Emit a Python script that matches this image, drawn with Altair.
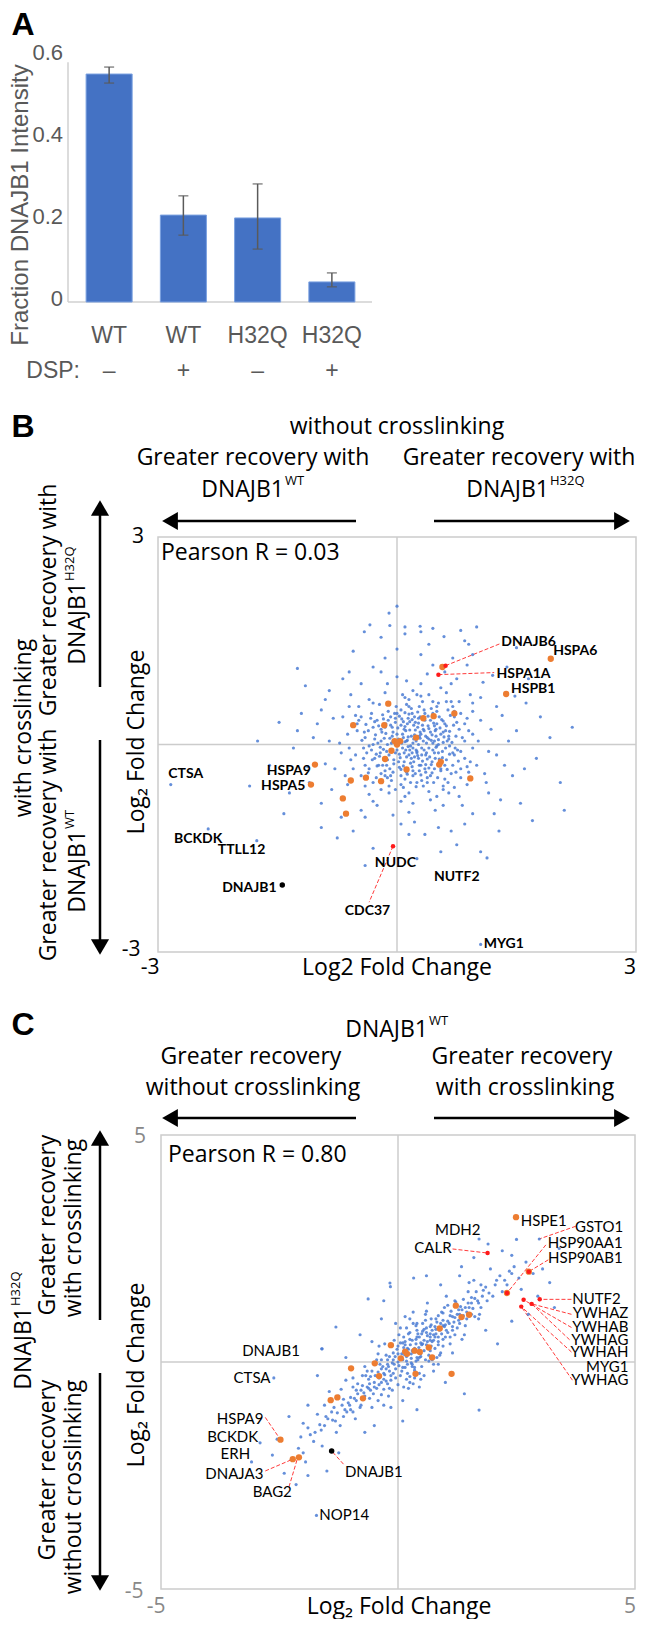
import altair as alt
import pandas as pd

OX, OY = 8, 8
def px(v): return v - OX
def py(v): return v - OY

FA = "Liberation Sans"
FH = "Open Sans"
FL = "Lato"
GRAY = "#595959"

# ---------------- Panel A data ----------------
a_conds = ["WT-", "WT+", "H32Q-", "H32Q+"]
a_names = ["WT", "WT", "H32Q", "H32Q"]
a_dsp = ["–", "+", "–", "+"]
a_vals = [0.556, 0.212, 0.205, 0.049]
a_lo = [0.534, 0.163, 0.129, 0.037]
a_hi = [0.573, 0.259, 0.288, 0.071]
a_ticks = [0, 0.2, 0.4, 0.6]
a_tick_labels = ["0", "0.2", "0.4", "0.6"]

# ---------------- Panel B data ----------------
b_blue = [
(0.12,0.05),(0.25,-0.10),(-0.05,0.18),(0.33,0.22),(0.08,-0.31),(-0.21,-0.04),(0.41,-0.18),(0.19,0.36),(-0.12,-0.22),(0.52,0.07),
(0.03,0.41),(0.28,-0.38),(-0.30,0.25),(0.46,0.31),(-0.08,-0.45),(0.61,-0.05),(0.15,-0.15),(-0.25,-0.31),(0.37,0.02),(0.00,-0.08),
(0.22,0.14),(-0.16,0.09),(0.55,-0.27),(0.10,0.26),(0.31,-0.52),(-0.38,-0.12),(0.66,0.19),(-0.02,0.32),(0.44,-0.41),(0.17,-0.02),
(-0.33,0.38),(0.72,-0.15),(0.05,-0.58),(0.26,0.47),(-0.19,-0.55),(0.49,0.12),(-0.44,0.06),(0.13,-0.43),(0.39,0.41),(-0.07,0.02),
(0.58,0.34),(0.21,-0.25),(-0.27,0.14),(0.34,-0.08),(0.07,0.15),(-0.11,0.48),(0.63,-0.36),(0.29,0.09),(-0.36,-0.41),(0.47,-0.12),
(0.01,0.24),(0.18,0.52),(-0.22,-0.17),(0.54,0.24),(0.11,-0.35),(0.36,-0.29),(-0.14,0.30),(0.69,0.03),(0.24,-0.61),(-0.04,-0.28),
(0.42,0.18),(-0.31,-0.22),(0.16,0.33),(0.77,-0.24),(0.09,-0.12),(-0.18,0.43),(0.51,-0.48),(0.32,0.28),(-0.41,0.18),(0.20,-0.05),
(0.04,-0.19),(0.59,0.11),(-0.09,-0.35),(0.27,0.00),(0.45,0.45),(-0.24,0.02),(0.14,0.11),(0.38,-0.21),(-0.01,0.55),(0.68,-0.42),
(0.23,0.21),(-0.35,-0.02),(0.50,-0.02),(0.06,0.37),(0.30,-0.44),(-0.13,-0.10),(0.62,0.27),(0.19,-0.32),(-0.28,0.33),(0.43,0.06),
(0.10,-0.50),(0.35,0.35),(-0.20,-0.42),(0.57,-0.19),(-0.06,0.12),(0.26,-0.16),(0.74,0.12),(-0.39,0.29),(0.15,0.44),(0.40,-0.34),
(0.08,0.10),(0.31,-0.05),(-0.10,-0.15),(0.48,0.20),(0.20,-0.45),(-0.28,0.08),(0.57,-0.10),(0.13,0.30),(0.36,0.12),(-0.05,-0.40),
(0.65,0.08),(0.27,0.38),(-0.20,0.22),(0.44,-0.25),(0.02,0.08),(0.70,-0.30),(0.18,-0.20),(-0.32,-0.08),(0.53,0.40),(0.09,-0.25),
(0.40,-0.05),(-0.14,0.16),(0.60,-0.50),(0.24,0.05),(-0.23,-0.30),(0.78,0.22),(0.05,0.50),(0.33,-0.60),(-0.40,-0.30),(0.50,0.55),
(0.16,-0.08),(0.39,0.27),(-0.07,-0.52),(0.67,0.42),(0.28,-0.30),(-0.17,0.37),(0.55,-0.38),(0.11,0.20),(0.46,-0.55),(-0.03,0.45),
(0.73,-0.05),(0.21,0.28),(-0.26,-0.48),(0.34,0.50),(0.07,-0.05),(0.62,-0.22),(-0.12,0.00),(0.42,0.35),(0.17,-0.55),(-0.36,0.20),
(0.80,-0.35),(0.25,-0.12),(-0.08,0.28),(0.52,0.00),(0.29,0.18),(-0.21,-0.12),(0.47,-0.35),(0.03,-0.33),(0.64,0.50),(0.36,-0.15),
(0.14,-0.03),(0.30,0.15),(-0.02,-0.12),(0.45,-0.08),(0.22,0.40),(-0.15,0.25),(0.58,0.18),(0.05,-0.45),(0.38,-0.48),(-0.28,-0.20),
(0.70,-0.12),(0.12,0.58),(-0.40,0.10),(0.50,0.48),(0.25,-0.55),(-0.10,-0.60),(0.82,0.10),(0.32,0.62),(-0.45,-0.45),(0.64,-0.55),
(0.18,0.12),(0.40,0.08),(-0.08,0.40),(0.55,-0.35),(0.02,-0.25),(0.27,-0.20),(-0.32,0.45),(0.75,0.32),(0.10,0.46),(0.48,-0.20),
(-0.18,-0.30),(0.60,0.30),(0.20,-0.38),(-0.05,0.05),(0.35,0.45),(0.85,-0.20),(-0.25,0.35),(0.45,0.02),(0.08,-0.62),(0.66,-0.02),
(0.30,-0.30),(-0.35,-0.35),(0.52,0.60),(0.15,0.65),(-0.50,0.20),(0.90,0.20),(0.40,-0.68),(-0.12,-0.48),(0.72,0.48),(0.00,0.15),
(0.23,0.32),(0.47,0.27),(-0.20,0.05),(0.63,0.05),(0.12,-0.18),(0.36,-0.40),(-0.02,-0.65),(0.80,-0.48),(0.28,0.55),(-0.42,-0.05),
(0.05,0.28),(0.58,-0.65),(0.19,-0.12),(0.43,0.52),(-0.30,-0.55),(0.74,-0.40),(0.10,0.04),(0.33,0.05),(-0.15,-0.38),(0.55,0.15),
(0.26,0.25),(0.68,0.62),(-0.48,0.35),(0.15,-0.70),(0.95,-0.05),(-0.22,0.58),(0.50,-0.75),(0.88,0.38),(-0.58,-0.22),(0.40,0.72),
(0.06,0.02),(0.21,0.08),(0.37,-0.12),(-0.09,0.09),(0.49,-0.04),(0.16,0.21),(0.32,-0.24),(-0.17,-0.07),(0.58,0.03),(0.03,-0.14),
(0.27,0.31),(0.44,0.14),(-0.11,0.35),(0.12,-0.40),(0.53,-0.21),(0.19,0.45),(-0.26,-0.14),(0.40,0.23),(0.08,0.33),(0.61,0.20),
(0.35,-0.35),(-0.04,-0.22),(0.24,-0.08),(0.50,0.30),(0.13,0.06),(-0.19,0.18),(0.43,-0.29),(0.29,0.40),(0.00,0.45),(0.66,-0.14),
(0.17,-0.27),(0.38,0.10),(-0.13,-0.30),(0.56,0.36),(0.23,-0.42),(0.09,0.22),(0.47,0.05),(-0.06,0.25),(0.31,-0.15),(0.71,0.28),
(0.20,0.02),(0.42,-0.45),(-0.23,0.27),(0.60,-0.30),(0.14,0.38),(0.34,0.20),(-0.15,-0.45),(0.52,-0.12),(0.05,-0.36),(0.28,0.12),
(0.45,0.40),(-0.30,0.00),(0.65,0.12),(0.11,-0.08),(0.38,-0.55),(-0.02,0.38),(0.76,-0.08),(0.22,-0.18),(0.49,0.22),(0.15,0.55),
(-0.45,0.40),(0.80,0.45),(-0.52,-0.15),(0.88,-0.32),(0.25,0.72),(0.10,-0.75),(-0.40,-0.60),(0.72,-0.62),(-0.60,0.55),(0.95,0.60),
(0.07,0.72),(-0.35,0.65),(0.62,0.75),(1.00,-0.30),(-0.65,-0.45),(0.20,-0.85),(0.78,-0.75),(-0.68,0.40),(1.05,0.35),(-0.12,0.88),
(0.58,-0.88),(0.30,0.88),(-0.85,0.05),(1.15,-0.10),(-0.30,-0.82),(0.92,0.72),(0.15,-0.98),(-0.78,-0.35),(0.68,0.88),(1.12,-0.55),
(-0.62,0.15),(0.85,0.30),(-0.55,-0.35),(0.92,-0.25),(0.20,0.78),(0.05,-0.82),(-0.48,0.55),(0.78,0.62),(-0.70,-0.12),(1.02,0.05),
(0.42,-0.80),(-0.15,0.75),(0.65,-0.70),(-0.80,0.38),(0.95,0.48),(0.30,0.70),(-0.35,-0.72),(1.10,-0.42),(-0.58,0.72),(0.55,0.82),
(-0.90,-0.28),(0.88,-0.58),(0.12,0.92),(-0.25,-0.88),(1.18,0.22),(0.70,0.55),(-0.72,0.02),(0.48,-0.95),(-0.45,0.88),(1.05,0.68),
(-0.05,-1.02),(0.82,-0.88),(-0.95,0.50),(0.38,1.02),(-0.62,-0.58),(1.25,-0.15),(0.60,1.05),(-1.05,0.10),(0.95,-1.00),(0.00,0.98),
(-0.40,-1.05),(1.32,0.42),(-0.82,-0.65),(0.75,0.95),(0.22,-1.12),(-1.12,-0.32),(1.15,-0.70),(-0.30,1.12),(0.52,-1.20),(-0.68,0.95),
(1.40,0.05),(0.88,1.15),(-1.20,0.45),(0.15,-1.30),(1.08,0.90),(-0.95,-0.85),(0.68,-1.25),(-0.15,1.25),(1.45,-0.45),(-1.30,-0.05),
(0.30,1.30),(-0.55,-1.25),(1.22,-1.00),(-0.85,0.78),(0.95,0.15),(-0.50,0.30),(0.80,-0.10),(-0.42,-0.20),(0.62,0.62),(-0.30,0.60),
(0.90,-0.40),(-0.60,-0.05),(0.72,0.40),(-0.20,-0.65),(0.85,0.05),(-0.52,0.42),(0.58,-0.60),(0.10,0.68),(-0.10,-0.70),(0.45,0.62),
(1.25,0.55),(-1.00,0.30),(0.45,1.15),(-0.45,-0.95),(1.35,-0.30),(0.85,-1.15),(-0.90,0.65),(1.20,1.00),(-0.20,1.05),(0.05,-1.15),
(1.50,0.20),(-1.10,-0.55),(0.70,1.25),(-0.60,1.05),(1.30,-0.80),(0.35,-1.30),(-1.25,0.20),(1.60,-0.35),(0.95,1.30),(-0.70,-1.05),
(1.62,0.60),(1.75,-0.20),(-1.48,0.32),(1.55,-0.85),(0.40,1.45),(-0.20,1.55),(1.38,1.12),(-1.35,-0.70),(0.10,1.70),(1.92,0.10),
(-1.60,-0.30),(0.75,-1.45),(-0.75,-1.35),(1.65,0.95),(-1.15,0.85),(0.00,1.38),(1.50,1.40),(-0.95,-1.20),(2.05,-0.55),(0.55,-1.55),
(1.80,0.40),(-1.75,0.05),(-0.30,-1.50),(1.28,-1.25),(0.90,1.45),(1.05,-1.55),(-1.42,-1.00),(1.70,-1.10),(-0.55,1.35),(2.20,0.25),
(0.45,1.68),(-0.10,1.90),(0.80,1.65),(-1.85,-0.60),(1.48,0.70),(0.25,-1.65),(-1.25,1.10),(2.10,-0.95),(-0.40,-1.75),(1.00,1.70),
(0.00,2.00),(-0.41,1.63),(-0.34,1.73),(-0.09,1.72),(0.10,1.60),(0.29,1.71),(0.30,1.63),(0.59,1.56),(0.85,1.50),
(-2.84,-0.58),(-2.37,-1.22),(-1.76,-1.39),(1.13,-1.64),(1.05,-2.89),
]
b_orange = [
(-0.11,0.59),(-0.55,0.28),(-0.16,0.28),(0.33,0.38),(0.46,0.41),(0.72,0.45),(-0.03,0.05),(0.04,0.05),(0.00,0.00),(0.24,0.10),
(-0.07,-0.09),(-0.15,-0.21),(0.55,-0.25),(0.53,-0.29),(0.12,-0.36),(0.92,-0.49),(-0.58,-0.52),(-0.39,-0.48),(-0.20,-0.53),
(-0.68,-0.78),(-0.64,-1.00),(-1.03,-0.29),(-1.08,-0.58),(0.57,1.12),(1.93,1.24),(1.37,0.73),
]
b_red = [(0.52,1.01),(0.61,1.14),(-0.05,-1.47)]
b_black = [(-1.44,-2.03)]
b_lab_left = [("DNAJB6",1.31,1.48),("HSPA6",1.96,1.35),("HSPA1A",1.25,1.02),("HSPB1",1.43,0.80),
              ("CTSA",-2.87,-0.42),("BCKDK",-2.80,-1.36),("TTLL12",-2.25,-1.53),("MYG1",1.09,-2.89)]
b_lab_right = [("HSPA9",-1.08,-0.38),("HSPA5",-1.15,-0.60),("DNAJB1",-1.51,-2.08)]
b_lab_center = [("NUDC",-0.02,-1.72),("CDC37",-0.37,-2.41),("NUTF2",0.75,-1.91)]
b_leaders = [(0.61,1.14,1.30,1.46),(0.52,1.01,1.22,1.04),(-0.05,-1.47,-0.35,-2.28)]

# ---------------- Panel C data ----------------
c_blue = [
(0.10,0.05),(0.35,0.30),(-0.20,-0.10),(0.55,0.25),(0.05,-0.30),(-0.40,-0.35),(0.30,-0.05),(0.75,0.60),(-0.10,0.20),(0.45,0.55),
(0.20,-0.25),(-0.55,-0.20),(0.65,0.15),(0.00,0.35),(-0.30,-0.60),(0.85,0.45),(0.15,0.45),(-0.65,-0.55),(0.50,-0.10),(0.95,0.80),
(-0.15,-0.40),(0.40,0.10),(0.25,0.65),(-0.45,0.05),(0.70,0.35),(-0.05,-0.15),(1.05,0.65),(0.60,0.75),(-0.75,-0.30),(0.35,-0.35),
(0.90,0.20),(-0.25,0.15),(0.12,-0.55),(1.15,1.00),(-0.60,-0.80),(0.80,0.95),(0.48,0.42),(-0.35,-0.15),(0.28,0.18),(-0.85,-0.70),
(1.25,0.75),(0.02,0.60),(-0.50,-0.45),(0.68,0.55),(0.18,0.02),(-0.95,-0.55),(1.35,1.15),(0.55,-0.30),(-0.20,-0.75),(0.92,1.10),
(-1.05,-0.90),(0.38,0.80),(1.45,0.95),(-0.70,-0.10),(0.72,0.05),(-1.15,-1.20),(1.55,1.30),(0.10,-0.85),(-0.40,0.35),(1.10,0.40),
(-1.25,-0.75),(0.25,0.95),(1.65,1.55),(-0.90,-1.25),(0.85,-0.05),(-1.40,-1.10),(1.75,1.20),(0.58,1.05),(-0.15,-1.00),(1.20,1.35),
(-1.55,-1.40),(1.85,1.65),(0.45,-0.55),(-1.10,-0.40),(1.40,0.60),(-1.70,-1.15),(2.00,1.45),(-0.05,0.85),(-1.30,-1.55),(1.60,1.80),
(-1.85,-1.60),(2.15,1.90),(0.95,0.50),(-0.80,-1.00),(1.30,0.85),(-2.00,-1.35),(2.30,1.70),(-1.60,-1.85),(1.95,2.05),(-2.10,-1.90),
(2.45,2.10),(-0.30,-0.95),(0.62,1.30),(-1.45,-0.65),(1.70,0.95),(-2.25,-2.15),(2.55,1.85),(-0.55,0.45),(1.50,1.75),(-1.95,-2.20),
(0.22,0.28),(0.42,0.05),(-0.08,-0.05),(0.62,0.45),(0.30,0.48),(-0.28,-0.28),(0.78,0.30),(0.08,0.18),(-0.45,-0.58),(1.00,0.55),
(0.52,0.68),(-0.12,0.38),(0.35,-0.18),(0.88,0.70),(-0.62,-0.38),(0.15,-0.12),(1.08,0.85),(-0.35,-0.45),(0.70,0.82),(0.00,-0.50),
(1.20,0.60),(-0.78,-0.62),(0.45,0.25),(1.30,1.05),(-0.22,0.05),(0.82,0.10),(-0.92,-0.80),(0.58,0.92),(1.42,1.20),(-0.50,-0.05),
(0.25,-0.45),(1.55,1.05),(-1.00,-1.05),(0.98,1.20),(-0.18,-0.58),(1.62,1.40),(-1.18,-0.95),(0.40,0.70),(1.78,1.45),(-1.32,-1.30),
(0.75,-0.20),(1.88,1.35),(-1.48,-1.25),(0.18,0.75),(2.05,1.70),(-1.62,-1.50),(1.15,0.70),(-0.70,-0.75),(2.20,1.55),(-1.78,-1.75),
(0.65,0.30),(1.35,0.50),(-0.95,-0.35),(1.02,1.45),(-0.42,-0.85),(1.48,1.55),(-1.22,-1.40),(0.32,1.10),(1.72,1.05),(-1.55,-0.95),
(2.35,2.00),(-2.05,-1.65),(0.05,0.10),(0.50,0.38),(0.28,-0.02),(-0.10,-0.25),(0.68,0.62),(0.85,0.55),(-0.32,-0.10),(0.12,0.32),
(1.12,1.12),(-0.58,-0.62),(0.95,0.92),(-0.85,-0.48),(1.28,0.92),(-1.08,-1.10),(0.40,0.55),(-0.25,-0.42),(0.78,0.78),(1.50,1.20),
(0.18,0.12),(0.38,0.40),(-0.12,-0.02),(0.62,0.58),(0.08,-0.20),(-0.30,-0.25),(0.48,0.18),(0.80,0.72),(-0.02,0.28),(0.28,0.08),
(0.55,0.48),(-0.48,-0.30),(0.72,0.45),(0.15,0.38),(-0.22,-0.48),(0.92,0.62),(0.35,-0.12),(-0.60,-0.48),(1.05,0.90),(0.02,-0.08),
(0.42,0.62),(-0.38,-0.05),(0.68,0.25),(-0.08,0.48),(0.25,-0.32),(1.18,0.88),(-0.72,-0.68),(0.58,0.05),(0.85,1.02),(-0.52,-0.70),
(1.28,1.15),(0.12,0.55),(-0.18,0.12),(0.95,0.35),(0.45,-0.25),(-0.88,-0.62),(1.38,1.02),(0.32,0.85),(-0.35,-0.72),(1.10,0.55),
(-1.00,-0.78),(0.70,0.95),(1.48,1.30),(-0.15,-0.30),(0.52,0.85),(-1.12,-1.05),(1.58,1.18),(0.22,-0.58),(-0.65,-0.20),(1.22,1.32),
(-1.28,-1.12),(0.88,0.15),(1.68,1.35),(-0.42,0.18),(0.60,1.12),(-1.38,-1.28),(1.80,1.58),(0.05,0.75),(-0.95,-1.10),(1.42,0.80),
(-1.52,-1.20),(0.75,-0.05),(1.92,1.52),(-0.28,0.40),(1.05,1.25),(-1.65,-1.38),(2.08,1.80),(0.32,-0.48),(-0.78,-0.95),(1.62,1.00),
(-1.75,-1.55),(2.25,1.80),(-0.55,-1.00),(1.15,0.20),(-1.90,-1.45),(2.40,1.95),(0.15,1.00),(-1.20,-0.60),(1.75,1.70),(-2.00,-2.00),
(0.00,0.18),(0.30,0.25),(0.60,0.38),(0.20,-0.05),(0.45,0.10),(-0.05,-0.35),(0.78,0.55),(0.10,0.42),(-0.25,-0.15),(0.98,0.78),
(0.50,0.62),(0.68,0.78),(0.38,0.02),(-0.40,-0.50),(0.82,0.88),(1.02,0.70),(-0.10,0.05),(0.25,0.50),(-0.58,-0.32),(1.25,1.05),
(0.14,0.16),(0.33,0.22),(0.52,0.40),(0.00,0.00),(0.26,0.38),(0.44,0.32),(-0.18,-0.20),(0.68,0.48),(0.10,-0.12),(0.38,0.50),
(0.60,0.65),(-0.06,0.12),(0.20,0.30),(0.80,0.62),(-0.30,-0.38),(0.48,0.12),(0.90,0.85),(0.05,0.42),(-0.42,-0.22),(0.72,0.70),
(0.30,-0.10),(1.00,0.82),(-0.22,-0.05),(0.55,0.72),(1.10,1.02),(-0.50,-0.55),(0.18,-0.38),(0.85,0.38),(1.20,0.98),(-0.62,-0.58),
(0.40,0.85),(1.32,1.22),(-0.75,-0.52),(0.65,0.02),(1.45,1.10),(-0.88,-0.85),(0.95,1.08),(-0.12,-0.62),(1.55,1.42),(-1.02,-0.95),
(0.75,0.48),(0.22,0.62),(-0.35,0.05),(1.15,0.78),(-0.68,-0.30),(1.38,1.38),(-1.15,-0.82),(0.48,-0.38),(1.70,1.30),(-1.35,-1.00),
(2.70,2.20),(2.85,1.95),(2.60,1.60),(3.05,2.05),(2.40,2.35),(3.20,1.75),(2.95,1.45),(2.20,2.45),(3.30,1.20),(2.75,1.05),
(1.60,2.30),(1.30,1.90),(0.90,1.70),(-0.35,0.95),(-0.80,0.60),(-1.10,0.10),(0.40,-1.05),(1.00,-0.45),(1.85,0.70),(2.10,0.40),
(-2.40,-2.45),(-2.55,-1.70),(-1.90,-2.50),(-2.30,-1.20),(-1.25,-2.00),(-1.50,-2.40),(-0.70,-1.55),(-2.65,-2.05),(-1.90,-0.95),(-0.50,-1.40),
(1.90,2.60),(2.50,2.70),(0.60,1.90),(-0.30,1.35),(1.40,-0.70),(2.40,0.90),(3.40,2.50),(-1.70,-0.30),(-2.15,-2.70),(0.10,-1.30),
(-0.63,1.39),(-0.17,1.74),(-0.16,1.66),(0.33,1.85),(-1.31,0.77),(-1.60,0.29),(1.71,-1.06),(1.34,2.10),
(1.71,2.71),(-2.62,-0.35),(-1.61,0.29),(-2.91,-1.78),(-3.09,-2.20),(-1.72,-3.38),(2.98,2.71),
]
c_orange = [
(1.22,1.24),(1.34,0.99),(1.50,1.04),(0.88,0.74),(-0.15,0.37),(0.15,0.23),(0.19,0.18),(0.35,0.25),(0.46,0.22),(0.65,0.32),
(0.72,0.10),(0.06,0.08),(-0.49,-0.03),(-0.99,-0.14),(-0.40,-0.31),(0.37,-0.26),(1.13,-0.26),(-1.42,-0.84),(-1.28,-0.78),
(-0.74,-0.80),(2.49,3.19),(-2.48,-1.71),(-2.22,-2.14),(-2.09,-2.10),(2.76,1.99),(2.30,1.52),
]
c_red = [(1.89,2.40),(2.65,1.37),(2.82,1.28),(2.60,1.22),(2.99,1.38),(2.76,1.99),(2.30,1.52)]
c_black = [(-1.40,-1.96)]
c_lab_left = [("HSPE1",2.59,3.10),("NOP14",-1.66,-3.38),("DNAJB1",-1.12,-2.42)]
c_lab_right = [("GSTO1",4.75,2.97),("HSP90AA1",4.74,2.62),("HSP90AB1",4.74,2.29),("NUTF2",4.70,1.38),
               ("YWHAZ",4.86,1.07),("YWHAB",4.86,0.77),("YWHAG",4.86,0.49),("YWHAH",4.86,0.23),
               ("MYG1",4.86,-0.12),("YWHAG",4.86,-0.40),("CALR",1.13,2.51),("DNAJB1",-2.07,0.24),
               ("CTSA",-2.69,-0.35),("HSPA9",-2.84,-1.26),("BCKDK",-2.95,-1.65),("ERH",-3.12,-2.02),
               ("DNAJA3",-2.84,-2.47),("BAG2",-2.24,-2.86)]
c_lab_center = [("MDH2",1.26,2.91)]
c_leaders = [(1.15,2.49,1.89,2.40),(3.75,2.99,2.98,2.71),(3.12,2.58,2.30,1.52),(3.17,2.25,2.76,1.99),
             (3.66,1.38,2.99,1.38),(3.66,1.05,2.82,1.28),(3.66,0.76,2.65,1.37),(3.62,0.49,2.82,1.28),
             (3.66,0.22,2.60,1.22),(3.68,-0.40,2.60,1.22),(-2.80,-1.22,-2.48,-1.71),(-2.80,-2.40,-2.22,-2.14),
             (-2.30,-2.75,-2.12,-2.12),(-1.15,-2.25,-1.40,-1.96)]

# ---------------- helpers ----------------
ONE = pd.DataFrame({"k": [0]})
L = []

def txt(s, x, y, size, font=FH, color="black", weight="normal", align="center", angle=0):
    L.append(alt.Chart(ONE).mark_text(text=s, font=font, fontSize=size, color=color, fontWeight=weight,
                                      align=align, baseline="middle", angle=angle)
             .encode(x=alt.value(px(x)), y=alt.value(py(y))))

def seg(x1, y1, x2, y2, w=2.5):
    L.append(alt.Chart(ONE).mark_rule(color="black", strokeWidth=w)
             .encode(x=alt.value(px(x1)), y=alt.value(py(y1)), x2=alt.value(px(x2)), y2=alt.value(py(y2))))

def head(x, y, shape):
    L.append(alt.Chart(ONE).mark_point(shape=shape, filled=True, color="black", size=330, opacity=1)
             .encode(x=alt.value(px(x)), y=alt.value(py(y))))

# ---------------- Panel A ----------------
dfA = pd.DataFrame({"cond": a_conds, "name": a_names, "dsp": a_dsp, "val": a_vals, "lo": a_lo, "hi": a_hi})
def sxA(): return alt.Scale(domain=a_conds, range=[px(72), px(369)], paddingInner=0.38, paddingOuter=0.19)
def syA(): return alt.Scale(domain=[0, 0.6], range=[py(302), py(56)])
def XA(): return alt.X("cond:N", scale=sxA(), axis=None, sort=a_conds)

dfAx = pd.DataFrame({"y0": [0.0], "y1": [0.585]})
L.append(alt.Chart(dfAx).mark_rule(color="#d0d0d0", strokeWidth=1.5)
         .encode(x=alt.value(px(68)), y=alt.Y("y0:Q", scale=syA(), axis=None), y2="y1:Q"))
L.append(alt.Chart(dfAx).mark_rule(color="#d0d0d0", strokeWidth=1.5)
         .encode(x=alt.value(px(68)), x2=alt.value(px(372)), y=alt.Y("y0:Q", scale=syA(), axis=None)))
L.append(alt.Chart(dfA).mark_bar(color="#4472C4", stroke="#7aa0e0", strokeWidth=1)
         .encode(x=XA(), y=alt.Y("val:Q", scale=syA(), axis=None)))
L.append(alt.Chart(dfA).mark_rule(color="#5a5a5a", strokeWidth=1.5)
         .encode(x=XA(), y=alt.Y("lo:Q", scale=syA(), axis=None), y2="hi:Q"))
for f in ["lo", "hi"]:
    L.append(alt.Chart(dfA).mark_tick(color="#5a5a5a", size=10, thickness=1.5, orient="horizontal")
             .encode(x=XA(), y=alt.Y(f + ":Q", scale=syA(), axis=None)))
dfAt = pd.DataFrame({"t": a_ticks, "lab": a_tick_labels})
L.append(alt.Chart(dfAt).mark_text(align="right", baseline="middle", dy=-3, font=FA, fontSize=22, color=GRAY)
         .encode(x=alt.value(px(63)), y=alt.Y("t:Q", scale=syA(), axis=None), text="lab:N"))
L.append(alt.Chart(dfA).mark_text(baseline="middle", font=FA, fontSize=23, color=GRAY)
         .encode(x=XA(), y=alt.value(py(336)), text="name:N"))
L.append(alt.Chart(dfA).mark_text(baseline="middle", font=FA, fontSize=23, color=GRAY)
         .encode(x=XA(), y=alt.value(py(371)), text="dsp:N"))
txt("DSP:", 80, 371, 23, font=FA, color=GRAY, align="right")
txt("Fraction DNAJB1 Intensity", 21, 205, 24, font=FA, color=GRAY, angle=270)
txt("A", 23, 25, 32, font=FA, weight="bold")

# ---------------- scatter panel builder ----------------
def panel(sx, sy, lim, blue, orange, red, black, lab_l, lab_r, lab_c, leaders, lab_size, lab_weight):
    X = lambda f="x": alt.X(f + ":Q", scale=sx(), axis=None)
    Y = lambda f="y": alt.Y(f + ":Q", scale=sy(), axis=None)
    fr = pd.DataFrame({"x0": [-lim], "x1": [lim], "y0": [-lim], "y1": [lim], "z": [0]})
    L.append(alt.Chart(fr).mark_rule(color="#cccccc", strokeWidth=1.5)
             .encode(x=X("z"), y=Y("y0"), y2="y1:Q"))
    L.append(alt.Chart(fr).mark_rule(color="#cccccc", strokeWidth=1.5)
             .encode(y=Y("z"), x=X("x0"), x2="x1:Q"))
    L.append(alt.Chart(fr).mark_rect(fillOpacity=0, stroke="#cccccc", strokeWidth=1.5)
             .encode(x=X("x0"), x2="x1:Q", y=Y("y0"), y2="y1:Q"))
    dl = pd.DataFrame(leaders, columns=["x", "y", "x2", "y2"])
    L.append(alt.Chart(dl).mark_rule(color="#ff3b3b", strokeWidth=1, strokeDash=[4, 2])
             .encode(x=X(), y=Y(), x2="x2:Q", y2="y2:Q"))
    L.append(alt.Chart(pd.DataFrame(blue, columns=["x", "y"])).mark_circle(size=10, color="#4a7bd4", opacity=0.85)
             .encode(x=X(), y=Y()))
    L.append(alt.Chart(pd.DataFrame(orange, columns=["x", "y"])).mark_circle(size=40, color="#ED7D31", opacity=1)
             .encode(x=X(), y=Y()))
    L.append(alt.Chart(pd.DataFrame(red, columns=["x", "y"])).mark_circle(size=20, color="#ff1a1a", opacity=1)
             .encode(x=X(), y=Y()))
    L.append(alt.Chart(pd.DataFrame(black, columns=["x", "y"])).mark_circle(size=30, color="black", opacity=1)
             .encode(x=X(), y=Y()))
    for labs, al in [(lab_l, "left"), (lab_r, "right"), (lab_c, "center")]:
        d = pd.DataFrame(labs, columns=["t", "x", "y"])
        L.append(alt.Chart(d).mark_text(align=al, baseline="middle", font=FL, fontSize=lab_size,
                                        fontWeight=lab_weight, color="black")
                 .encode(x=X(), y=Y(), text="t:N"))

HS = 23   # heading size
TS = 21   # tick label size

# ---------------- Panel B ----------------
def sxB(): return alt.Scale(domain=[-3, 3], range=[px(158), px(636)])
def syB(): return alt.Scale(domain=[-3, 3], range=[py(952), py(537)])
panel(sxB, syB, 3, b_blue, b_orange, b_red, b_black, b_lab_left, b_lab_right, b_lab_center, b_leaders, 14, "bold")

txt("B", 23, 427, 32, font=FA, weight="bold")
txt("without crosslinking", 397, 427, HS)
txt("Greater recovery with", 253, 458, HS)
txt("DNAJB1", 284, 490, HS, align="right")
txt("WT", 285, 481, 13, align="left")
txt("Greater recovery with", 519, 458, HS)
txt("DNAJB1", 549, 490, HS, align="right")
txt("H32Q", 550, 481, 13, align="left")
seg(356, 521, 172, 521); head(170, 521, "triangle-left")
seg(434, 521, 622, 521); head(622, 521, "triangle-right")
txt("with crosslinking", 24, 728, HS, angle=270)
txt("Greater recovery with", 49, 600, HS, angle=270)
txt("DNAJB1", 78, 582, HS, align="right", angle=270)
txt("H32Q", 70, 581, 13, align="left", angle=270)
txt("Greater recovery with", 49, 845, HS, angle=270)
txt("DNAJB1", 78, 830, HS, align="right", angle=270)
txt("WT", 70, 829, 13, align="left", angle=270)
seg(100, 687, 100, 510); head(100, 508, "triangle-up")
seg(100, 740, 100, 945); head(100, 947, "triangle-down")
txt("Log₂ Fold Change", 137, 742, HS, angle=270)
txt("Log2 Fold Change", 397, 968, HS)
txt("3", 138, 537, TS)
txt("-3", 131, 950, TS)
txt("-3", 150, 968, TS)
txt("3", 630, 968, TS)
txt("Pearson R = 0.03", 161, 553, HS, align="left")

# ---------------- Panel C ----------------
def sxC(): return alt.Scale(domain=[-5, 5], range=[px(161), px(635)])
def syC(): return alt.Scale(domain=[-5, 5], range=[py(1589), py(1135)])
panel(sxC, syC, 5, c_blue, c_orange, c_red, c_black, c_lab_left, c_lab_right, c_lab_center, c_leaders, 15, "normal")

txt("C", 23, 1025, 32, font=FA, weight="bold")
txt("DNAJB1", 428, 1030, HS, align="right")
txt("WT", 429, 1021, 13, align="left")
txt("Greater recovery", 251, 1057, HS)
txt("without crosslinking", 253, 1088, HS)
txt("Greater recovery", 522, 1057, HS)
txt("with crosslinking", 525, 1088, HS)
seg(356, 1118, 172, 1118); head(170, 1118, "triangle-left")
seg(434, 1118, 622, 1118); head(622, 1118, "triangle-right")
txt("DNAJB1", 24, 1307, HS, align="right", angle=270)
txt("H32Q", 16, 1306, 13, align="left", angle=270)
txt("Greater recovery", 48, 1225, HS, angle=270)
txt("with crosslinking", 74, 1228, HS, angle=270)
txt("Greater recovery", 48, 1470, HS, angle=270)
txt("without crosslinking", 74, 1487, HS, angle=270)
seg(100, 1320, 100, 1140); head(100, 1138, "triangle-up")
seg(100, 1373, 100, 1581); head(100, 1583, "triangle-down")
txt("Log₂ Fold Change", 137, 1375, HS, angle=270)
txt("Log₂ Fold Change", 399, 1607, HS)
txt("5", 140, 1137, TS, color="#888888")
txt("-5", 134, 1592, TS, color="#888888")
txt("-5", 156, 1607, TS, color="#888888")
txt("5", 630, 1607, TS, color="#888888")
txt("Pearson R = 0.80", 168, 1155, HS, align="left")

chart = (alt.layer(*L)
         .resolve_scale(x="independent", y="independent")
         .properties(width=629, height=1611, padding=0, autosize=alt.AutoSizeParams(type="none"))
         .configure_view(stroke=None))
chart.save("out.html", embed_options={"renderer": "svg", "actions": False})
